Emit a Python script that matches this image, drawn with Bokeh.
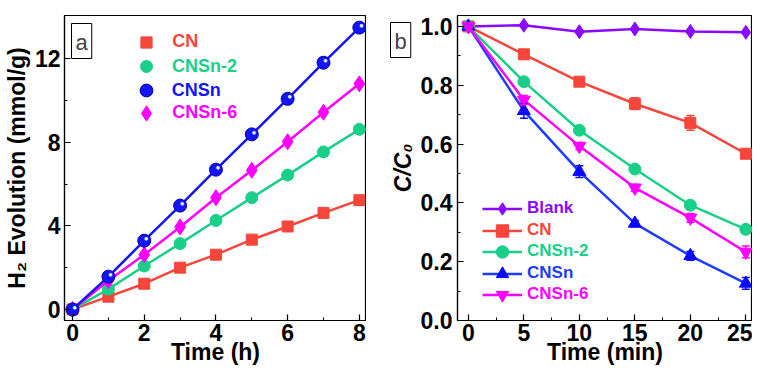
import numpy as np
from bokeh.plotting import figure
from bokeh.layouts import row
from bokeh.models import (ColumnDataSource, FixedTicker, Legend, LegendItem, Label,
                          Whisker, TeeHead, Range1d, NumeralTickFormatter)
from bokeh.core.properties import value
from bokeh.embed import file_html
from bokeh.resources import INLINE

FONT = "Liberation Sans"

# ---------------- Panel a data ----------------
time_h = [0, 1, 2, 3, 4, 5, 6, 7, 8]
h2_cn = [0, 0.61, 1.23, 2.00, 2.62, 3.34, 3.97, 4.62, 5.23]
h2_cnsn2 = [0, 0.97, 2.08, 3.15, 4.26, 5.35, 6.43, 7.54, 8.62]
h2_cnsn = [0, 1.57, 3.29, 4.97, 6.69, 8.38, 10.08, 11.81, 13.49]
h2_cnsn6 = [0, 1.38, 2.62, 3.95, 5.35, 6.66, 8.03, 9.44, 10.80]
a_xticks = [0, 2, 4, 6, 8]
a_yticks = [0, 4, 8, 12]

# ---------------- Panel b data ----------------
time_min = [0, 5, 10, 15, 20, 25]
cc_blank = [1.0, 1.004, 0.982, 0.991, 0.983, 0.980]
cc_cn = [1.0, 0.905, 0.812, 0.737, 0.672, 0.567]
cc_cnsn2 = [1.0, 0.812, 0.647, 0.515, 0.392, 0.310]
cc_cnsn = [1.0, 0.713, 0.506, 0.330, 0.220, 0.126]
cc_cnsn6 = [1.0, 0.750, 0.593, 0.451, 0.349, 0.233]
err_blank = [0.004, 0.005, 0.005, 0.004, 0.005, 0.005]
err_cn = [0.005, 0.015, 0.010, 0.020, 0.025, 0.010]
err_cnsn2 = [0.005, 0.010, 0.010, 0.010, 0.012, 0.010]
err_cnsn = [0.005, 0.025, 0.020, 0.010, 0.015, 0.020]
err_cnsn6 = [0.005, 0.015, 0.012, 0.012, 0.015, 0.020]
b_xticks = [0, 5, 10, 15, 20, 25]
b_yticks = [0.0, 0.2, 0.4, 0.6, 0.8, 1.0]

C_RED = "#F4463A"
C_GREEN = "#1ACF88"
C_BLUE = "#1414F5"
C_BLUE_B = "#1E3CFF"
C_MAG = "#FF00FF"
C_VIO = "#8A0AFF"

FH_A = 306   # expected frame height of panel a (px)
FH_B = 298   # expected frame height of panel b (px)


def style(p, xticks, yticks, xminor, yminor, xlabel, ylabel, ylabel_style="bold"):
    p.outline_line_color = "black"
    p.outline_line_width = 1.2
    p.outline_line_alpha = 1
    p.grid.visible = False
    p.background_fill_color = "white"
    p.border_fill_color = "white"
    for ax in (p.xaxis[0], p.yaxis[0]):
        ax.axis_line_color = "black"
        ax.axis_line_width = 1.2
        ax.major_tick_in = 6
        ax.major_tick_out = 0
        ax.minor_tick_in = 3
        ax.minor_tick_out = 0
        ax.major_tick_line_color = "black"
        ax.minor_tick_line_color = "black"
        ax.major_tick_line_width = 1.2
        ax.major_label_text_font = FONT
        ax.major_label_text_font_size = "23px"
        ax.major_label_text_font_style = "bold"
        ax.major_label_text_color = "black"
        ax.axis_label_text_font = FONT
        ax.axis_label_text_font_size = "23px"
        ax.axis_label_text_color = "black"
    p.xaxis[0].ticker = FixedTicker(ticks=xticks, minor_ticks=xminor)
    p.yaxis[0].ticker = FixedTicker(ticks=yticks, minor_ticks=yminor)
    p.xaxis[0].axis_label = xlabel
    p.yaxis[0].axis_label = ylabel
    p.xaxis[0].axis_label_text_font_style = "bold"
    p.yaxis[0].axis_label_text_font_style = ylabel_style
    p.xaxis[0].major_label_standoff = 3
    p.xaxis[0].axis_label_standoff = -5
    p.xaxis[0].axis_label_text_line_height = 1.0
    p.yaxis[0].major_label_standoff = 4
    p.yaxis[0].axis_label_standoff = 2


def add_legend(p, label, renderers, color, center_x, center_y, gw, gh, text_x, fsize):
    vx = center_x - gw / 2
    vy = center_y - gh / 2
    leg = Legend(items=[LegendItem(label=label, renderers=renderers)],
                 location=(vx, vy), glyph_width=int(round(gw)), glyph_height=int(round(gh)),
                 label_height=int(round(gh)), label_standoff=int(round(text_x - (vx + gw))),
                 label_text_font=FONT, label_text_font_size=fsize,
                 label_text_font_style="bold", label_text_color=color,
                 border_line_alpha=0, background_fill_alpha=0, padding=0, margin=0,
                 spacing=0)
    p.add_layout(leg)


def panel_letter(letter, x, y, units):
    return Label(x=x, y=y, x_units=units, y_units=units, text=letter,
                 text_font=FONT, text_font_size="22px", text_align="left",
                 text_baseline="top", border_line_color="black", border_line_width=1,
                 background_fill_color="white",
                 padding=dict(left=4, right=4, top=6, bottom=4))


# ================= Panel a =================
pa = figure(width=366, height=367, output_backend="svg", toolbar_location=None,
            x_range=Range1d(-0.225, 8.2), y_range=Range1d(-0.53, 14.07),
            min_border_left=58, min_border_right=0, min_border_top=7, min_border_bottom=40)
style(pa, a_xticks, a_yticks, [1, 3, 5, 7], [2, 6, 10],
      "Time (h)", "H\u2082 Evolution (mmol/g)")

src_a = ColumnDataSource(dict(x=time_h, cn=h2_cn, cnsn2=h2_cnsn2, cnsn=h2_cnsn, cnsn6=h2_cnsn6))

pa.line("x", "cn", source=src_a, color=C_RED, line_width=2.5)
r_a_cn = pa.scatter("x", "cn", source=src_a, marker="square", size=11, color=C_RED)
pa.line("x", "cnsn2", source=src_a, color=C_GREEN, line_width=2.5)
r_a_cnsn2 = pa.scatter("x", "cnsn2", source=src_a, marker="circle", size=12, color=C_GREEN)
pa.line("x", "cnsn6", source=src_a, color=C_MAG, line_width=2.5)
r_a_cnsn6 = pa.scatter("x", "cnsn6", source=src_a, marker="diamond", size=16, color=C_MAG)
pa.line("x", "cnsn", source=src_a, color=C_BLUE, line_width=2.5)
r_a_cnsn = pa.scatter("x", "cnsn", source=src_a, marker="circle", size=13,
                      fill_color=C_BLUE, line_color="#0000B0", line_width=1)
pa.text("x", "cnsn", source=src_a, text=value("\u25CF"), text_color="#E8EEFF",
        text_font_size="8px", x_offset=2, y_offset=-2, text_align="center",
        text_baseline="middle")

# legend a (markers only, coloured labels), centres measured from the frame top
for lab, rr, col, ctop, g in [("CN", r_a_cn, C_RED, 28, 27.5),
                              ("CNSn-2", r_a_cnsn2, C_GREEN, 52, 30),
                              ("CNSn", r_a_cnsn, C_BLUE, 76, 32.5),
                              ("CNSn-6", r_a_cnsn6, C_MAG, 99, 37.5)]:
    add_legend(pa, lab, [rr], col, 82, FH_A - ctop, g, g, 108, "18px")

pa.add_layout(panel_letter("a", 3 + 4, FH_A - 3 - 6, "screen"))

# ================= Panel b =================
pb = figure(width=386, height=367, output_backend="svg", toolbar_location=None,
            x_range=Range1d(-0.98, 25.6), y_range=Range1d(0.0, 1.037),
            min_border_left=81, min_border_right=0, min_border_top=15, min_border_bottom=40)
style(pb, b_xticks, b_yticks, [2.5, 7.5, 12.5, 17.5, 22.5], [0.1, 0.3, 0.5, 0.7, 0.9],
      "Time (min)", "C/C\u2080", ylabel_style="bold italic")
pb.yaxis[0].formatter = NumeralTickFormatter(format="0.0")
pb.yaxis[0].major_label_standoff = 5

series_b = [
    ("Blank", cc_blank, err_blank, C_VIO, "diamond", 14),
    ("CN", cc_cn, err_cn, C_RED, "square", 11),
    ("CNSn-2", cc_cnsn2, err_cnsn2, C_GREEN, "circle", 12),
    ("CNSn", cc_cnsn, err_cnsn, C_BLUE_B, "triangle", 13),
    ("CNSn-6", cc_cnsn6, err_cnsn6, C_MAG, "inverted_triangle", 13),
]
leg_y = [112, 90, 69, 47, 26]   # legend row centres from the frame bottom
for (name, yv, ev, col, mk, sz), ly in zip(series_b, leg_y):
    s = ColumnDataSource(dict(x=time_min, y=yv,
                              lo=[a - b for a, b in zip(yv, ev)],
                              hi=[a + b for a, b in zip(yv, ev)]))
    rl = pb.line("x", "y", source=s, color=col, line_width=2.5)
    mcol = "#0A0AFF" if name == "CNSn" else col
    rs = pb.scatter("x", "y", source=s, marker=mk, size=sz, color=mcol)
    w = Whisker(source=s, base="x", upper="hi", lower="lo", line_color=mcol, line_width=1.5,
                upper_head=TeeHead(size=8, line_color=mcol, line_width=1.5),
                lower_head=TeeHead(size=8, line_color=mcol, line_width=1.5), level="overlay")
    pb.add_layout(w)
    add_legend(pb, name, [rl, rs], col, 45, ly, 40, 31, 70, "17px")

# panel letter b lives outside the frame -> put it in the left side panel (not clipped)
pb.add_layout(panel_letter("b", 20 + 4, 16 + 6, "canvas"), "left")

layout = row(pa, pb)
open("out.html", "w").write(file_html(layout, INLINE))
